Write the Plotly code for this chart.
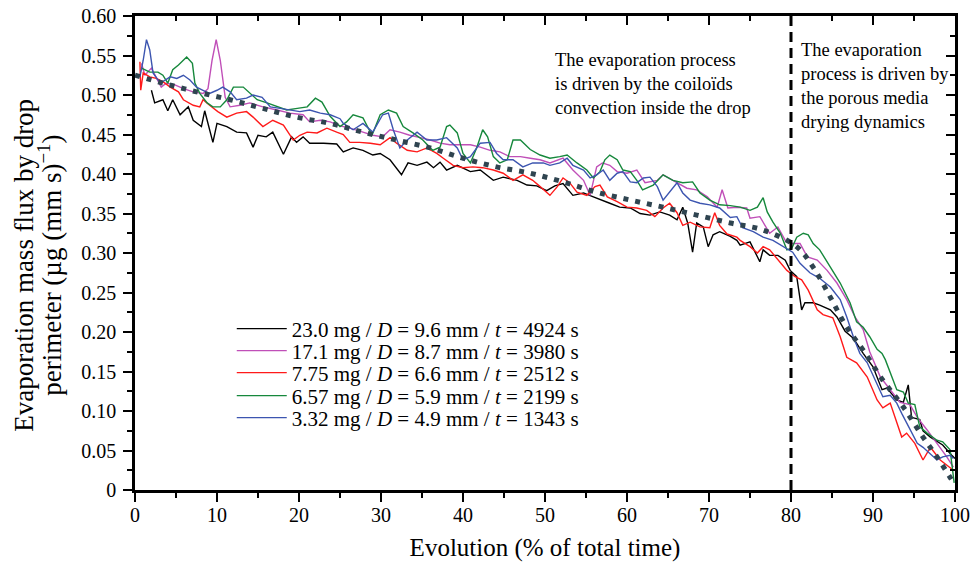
import plotly.graph_objects as go

# 23.0 mg / D = 9.6 mm / t = 4924 s
x_black = [2.0, 2.4, 3.4, 4.0, 4.6, 5.5, 6.5, 7.1, 8.1, 8.5, 9.5, 10.0, 11.2, 12.4, 13.6, 14.4, 15.0, 16.0, 16.8, 18.1,
           19.1, 19.7, 20.5, 21.3, 23.0, 24.6, 25.4, 26.6, 27.8, 29.0, 29.9, 31.1, 32.5, 33.3, 34.4, 35.6, 36.4, 37.2,
           38.0, 39.3, 40.9, 42.1, 43.7, 44.9, 46.6, 47.8, 49.0, 50.2, 51.2, 52.2, 53.4, 54.7, 55.9, 57.0, 57.9, 59.1,
           60.4, 61.6, 62.8, 64.0, 65.2, 66.1, 66.8, 67.4, 68.0, 68.5, 69.3, 69.9, 70.5, 71.3, 72.6, 73.4, 73.8, 75.0,
           75.6, 76.2, 76.6, 77.4, 78.4, 79.3, 79.9, 80.7, 81.3, 81.7, 82.7, 83.5, 84.8, 85.6, 86.6, 87.6, 88.8, 90.0,
           91.1, 91.7, 92.9, 93.7, 94.3, 94.7, 95.7, 96.1, 97.0, 98.5, 99.6, 100.0]
y_black = [0.506, 0.490, 0.494, 0.480, 0.494, 0.475, 0.485, 0.468, 0.460, 0.480, 0.440, 0.464, 0.460, 0.453, 0.452,
           0.434, 0.449, 0.447, 0.453, 0.425, 0.447, 0.440, 0.447, 0.439, 0.439, 0.438, 0.428, 0.433, 0.430, 0.424,
           0.426, 0.418, 0.399, 0.414, 0.411, 0.415, 0.408, 0.415, 0.405, 0.411, 0.403, 0.405, 0.392, 0.396, 0.392,
           0.386, 0.385, 0.379, 0.385, 0.388, 0.373, 0.376, 0.371, 0.367, 0.363, 0.358, 0.357, 0.350, 0.348, 0.352,
           0.348, 0.342, 0.358, 0.338, 0.301, 0.338, 0.333, 0.308, 0.323, 0.327, 0.321, 0.316, 0.310, 0.314, 0.301,
           0.289, 0.304, 0.297, 0.297, 0.291, 0.278, 0.270, 0.228, 0.237, 0.237, 0.234, 0.228, 0.219, 0.201, 0.192,
           0.173, 0.156, 0.127, 0.129, 0.114, 0.111, 0.133, 0.092, 0.089, 0.075, 0.067, 0.057, 0.044, 0.040]

# 17.1 mg / D = 8.7 mm / t = 3980 s
x_magenta = [0.8, 1.2, 2.0, 2.6, 3.2, 3.8, 4.8, 5.9, 7.1, 8.3, 8.9, 9.4, 9.9, 10.4, 11.0, 11.6, 12.8, 14.0, 15.6, 17.3,
             18.9, 20.5, 21.3, 22.6, 23.8, 25.0, 26.2, 27.8, 29.0, 30.2, 31.1, 32.3, 33.5, 34.8, 36.0, 37.2, 38.4, 40.9,
             42.1, 43.3, 44.5, 45.7, 47.0, 48.2, 49.4, 50.6, 52.2, 53.4, 54.7, 55.5, 56.3, 57.0, 57.9, 58.8, 60.0, 61.2,
             62.2, 63.7, 64.4, 65.6, 67.3, 68.5, 69.8, 71.0, 71.6, 72.3, 73.4, 74.6, 75.0, 76.2, 77.4, 78.4, 79.3, 80.1,
             81.1, 82.0, 83.2, 84.4, 85.6, 86.8, 87.8, 88.8, 89.6, 90.9, 92.1, 93.3, 94.5, 95.4, 96.6, 97.8, 99.0, 99.8]
y_magenta = [0.540, 0.525, 0.534, 0.521, 0.510, 0.515, 0.513, 0.508, 0.504, 0.502, 0.508, 0.544, 0.570, 0.544, 0.497,
             0.485, 0.487, 0.490, 0.485, 0.481, 0.477, 0.475, 0.466, 0.468, 0.466, 0.461, 0.458, 0.453, 0.449, 0.447,
             0.456, 0.453, 0.449, 0.446, 0.443, 0.439, 0.437, 0.437, 0.434, 0.430, 0.428, 0.422, 0.422, 0.420, 0.418,
             0.414, 0.420, 0.405, 0.392, 0.373, 0.409, 0.414, 0.411, 0.403, 0.401, 0.405, 0.389, 0.392, 0.399, 0.392,
             0.382, 0.380, 0.371, 0.358, 0.380, 0.357, 0.358, 0.357, 0.344, 0.346, 0.325, 0.333, 0.316, 0.312, 0.312,
             0.295, 0.291, 0.278, 0.262, 0.241, 0.219, 0.203, 0.175, 0.143, 0.127, 0.111, 0.108, 0.092, 0.076, 0.059,
             0.042, 0.029]

# 7.75 mg / D = 6.6 mm / t = 2512 s
x_red = [0.6, 0.7, 1.0, 1.8, 2.6, 3.4, 4.3, 5.3, 5.9, 7.1, 7.9, 8.3, 9.1, 10.1, 11.2, 12.4, 13.6, 14.4, 15.6, 16.8, 18.1,
         19.3, 20.1, 21.0, 22.2, 23.4, 24.6, 25.4, 26.2, 27.4, 28.7, 29.9, 31.1, 31.9, 33.2, 34.4, 35.6, 36.8, 37.6,
         38.8, 40.0, 41.2, 42.4, 43.7, 44.9, 46.1, 47.3, 48.5, 49.3, 50.6, 51.5, 52.2, 53.0, 53.9, 55.1, 56.1, 56.7,
         57.6, 58.8, 60.0, 61.2, 62.4, 63.4, 64.4, 65.2, 66.1, 66.8, 67.7, 68.9, 70.1, 70.7, 71.3, 72.2, 73.4, 73.8,
         75.0, 75.9, 76.6, 77.4, 78.4, 79.5, 80.5, 81.3, 82.1, 83.2, 83.9, 85.1, 86.0, 86.8, 88.0, 89.3, 90.5, 91.2,
         92.1, 92.9, 93.5, 94.1, 95.1, 96.1, 97.0, 98.2, 99.4, 99.8]
y_red = [0.542, 0.506, 0.528, 0.523, 0.521, 0.517, 0.510, 0.504, 0.494, 0.487, 0.485, 0.494, 0.487, 0.479, 0.472, 0.477,
         0.479, 0.472, 0.460, 0.468, 0.462, 0.443, 0.449, 0.453, 0.452, 0.458, 0.453, 0.450, 0.440, 0.440, 0.439, 0.437,
         0.446, 0.439, 0.430, 0.428, 0.433, 0.426, 0.420, 0.411, 0.408, 0.409, 0.408, 0.405, 0.401, 0.392, 0.399, 0.392,
         0.385, 0.373, 0.384, 0.395, 0.389, 0.377, 0.373, 0.384, 0.386, 0.371, 0.365, 0.358, 0.357, 0.354, 0.346, 0.357,
         0.363, 0.351, 0.335, 0.339, 0.333, 0.332, 0.351, 0.335, 0.324, 0.320, 0.316, 0.308, 0.300, 0.308, 0.304, 0.291,
         0.278, 0.270, 0.266, 0.253, 0.228, 0.222, 0.218, 0.194, 0.168, 0.161, 0.143, 0.114, 0.104, 0.110, 0.085, 0.067,
         0.072, 0.059, 0.038, 0.054, 0.038, 0.029, 0.025]

# 6.57 mg / D = 5.9 mm / t = 2199 s
x_green = [0.8, 1.8, 2.8, 3.4, 4.0, 4.6, 5.3, 5.9, 6.3, 7.0, 7.3, 7.9, 8.8, 9.5, 10.4, 11.2, 12.0, 13.2, 14.0, 14.9,
           16.1, 17.3, 18.5, 19.8, 21.0, 22.0, 22.8, 23.8, 25.0, 25.8, 26.6, 27.8, 28.9, 29.9, 30.9, 31.9, 32.7, 33.9,
           35.1, 36.3, 37.2, 38.0, 38.4, 39.3, 40.0, 40.9, 41.7, 42.4, 43.0, 43.7, 44.5, 45.4, 46.1, 47.0, 48.2, 49.4,
           50.6, 51.8, 52.7, 53.9, 55.1, 55.9, 56.7, 57.3, 57.9, 58.8, 59.5, 60.4, 61.2, 61.9, 63.2, 64.4, 65.6, 66.8,
           68.0, 68.9, 70.1, 71.3, 72.6, 73.8, 75.0, 75.9, 76.6, 77.1, 77.8, 78.7, 79.5, 80.1, 80.7, 81.5, 82.1, 82.7,
           83.5, 84.8, 86.0, 87.2, 88.0, 88.8, 89.6, 90.5, 91.1, 91.5, 92.1, 92.9, 93.7, 94.3, 95.1, 95.7, 96.6, 97.8,
           98.5, 99.4, 99.9]
y_green = [0.534, 0.529, 0.529, 0.525, 0.515, 0.532, 0.538, 0.544, 0.548, 0.540, 0.515, 0.502, 0.490, 0.485, 0.485,
           0.494, 0.510, 0.510, 0.502, 0.494, 0.490, 0.485, 0.481, 0.483, 0.485, 0.496, 0.491, 0.473, 0.460, 0.466,
           0.475, 0.471, 0.449, 0.475, 0.481, 0.477, 0.460, 0.452, 0.443, 0.430, 0.434, 0.460, 0.462, 0.452, 0.426,
           0.414, 0.434, 0.456, 0.447, 0.422, 0.414, 0.418, 0.443, 0.443, 0.431, 0.424, 0.420, 0.422, 0.424, 0.414,
           0.405, 0.395, 0.403, 0.418, 0.424, 0.418, 0.405, 0.403, 0.392, 0.380, 0.386, 0.399, 0.392, 0.389, 0.390,
           0.376, 0.367, 0.361, 0.360, 0.358, 0.354, 0.358, 0.370, 0.352, 0.339, 0.325, 0.304, 0.306, 0.320, 0.325,
           0.323, 0.312, 0.304, 0.282, 0.262, 0.237, 0.213, 0.206, 0.194, 0.178, 0.173, 0.165, 0.148, 0.127, 0.124,
           0.110, 0.108, 0.080, 0.072, 0.063, 0.061, 0.051, 0.009]

# 3.32 mg / D = 4.9 mm / t = 1343 s
x_blue = [0.6, 1.0, 1.4, 1.8, 2.2, 2.8, 3.4, 4.3, 5.1, 5.9, 6.7, 7.5, 8.3, 9.1, 10.0, 10.7, 11.6, 12.4, 13.6, 14.4, 15.5,
          16.5, 17.7, 18.9, 20.1, 21.3, 22.6, 23.8, 25.0, 25.4, 26.6, 27.8, 29.0, 30.2, 30.9, 31.5, 32.3, 33.2, 34.4,
          35.6, 36.8, 38.0, 39.3, 40.0, 40.9, 42.1, 43.3, 44.1, 44.9, 46.1, 47.3, 48.5, 49.8, 50.6, 51.8, 52.7, 53.4,
          54.7, 55.5, 56.3, 57.1, 57.9, 58.8, 59.5, 60.4, 61.2, 62.0, 62.8, 63.7, 64.4, 65.2, 66.1, 66.8, 67.7, 68.9,
          70.1, 71.3, 72.6, 73.4, 74.1, 75.4, 76.6, 77.8, 79.0, 80.2, 81.1, 82.3, 83.5, 84.8, 86.0, 86.8, 87.6, 88.4,
          89.3, 90.5, 91.2, 92.1, 92.9, 93.5, 94.5, 95.4, 96.1, 97.0, 97.8, 98.5, 99.4, 99.8]
y_blue = [0.523, 0.544, 0.570, 0.557, 0.528, 0.519, 0.517, 0.523, 0.521, 0.525, 0.519, 0.510, 0.506, 0.502, 0.506, 0.510,
          0.504, 0.494, 0.496, 0.500, 0.497, 0.485, 0.483, 0.481, 0.479, 0.481, 0.477, 0.475, 0.470, 0.464, 0.456, 0.464,
          0.453, 0.475, 0.477, 0.456, 0.433, 0.443, 0.453, 0.443, 0.443, 0.446, 0.433, 0.418, 0.422, 0.439, 0.440, 0.426,
          0.418, 0.418, 0.409, 0.414, 0.414, 0.411, 0.414, 0.420, 0.411, 0.405, 0.395, 0.399, 0.405, 0.392, 0.401, 0.403,
          0.390, 0.389, 0.395, 0.396, 0.384, 0.367, 0.377, 0.389, 0.376, 0.367, 0.363, 0.361, 0.357, 0.345, 0.346, 0.332,
          0.327, 0.320, 0.316, 0.308, 0.301, 0.287, 0.275, 0.268, 0.257, 0.241, 0.219, 0.194, 0.173, 0.161, 0.135, 0.118,
          0.120, 0.110, 0.097, 0.076, 0.059, 0.054, 0.046, 0.038, 0.042, 0.044, 0.040]

# fitted trend (dotted)
x_fit = [0, 3.4, 7.5, 11.6, 15.6, 19.7, 23.8, 27.8, 31.9, 36.0, 40.0, 44.1, 48.2, 52.2, 56.3, 60.4, 64.4, 68.5, 72.6,
         76.6, 80.7, 82.7, 84.8, 86.8, 88.8, 91.2, 93.7, 96.1, 97.8, 99.4, 100]
y_fit = [0.525, 0.515, 0.504, 0.494, 0.483, 0.472, 0.464, 0.453, 0.443, 0.433, 0.420, 0.409, 0.401, 0.390, 0.377, 0.367,
         0.358, 0.348, 0.338, 0.329, 0.308, 0.282, 0.244, 0.206, 0.177, 0.139, 0.105, 0.067, 0.042, 0.016, 0.006]

names = ["23.0 mg / <i>D</i> = 9.6 mm / <i>t</i> = 4924 s",
         "17.1 mg / <i>D</i> = 8.7 mm / <i>t</i> = 3980 s",
         "7.75 mg / <i>D</i> = 6.6 mm / <i>t</i> = 2512 s",
         "6.57 mg / <i>D</i> = 5.9 mm / <i>t</i> = 2199 s",
         "3.32 mg / <i>D</i> = 4.9 mm / <i>t</i> = 1343 s"]
colors = ["#000000", "#c04fb8", "#ff1a1a", "#16883c", "#3c55b0"]

y_ticks = [0, 0.05, 0.10, 0.15, 0.20, 0.25, 0.30, 0.35, 0.40, 0.45, 0.50, 0.55, 0.60]
y_ticktext = ["0", "0.05", "0.10", "0.15", "0.20", "0.25", "0.30", "0.35", "0.40", "0.45", "0.50", "0.55", "0.60"]

FONT = "Liberation Serif, Times New Roman, serif"

fig = go.Figure()

# one small legend per entry so the rows can sit as tight as in the original
legend_ids = ["legend", "legend2", "legend3", "legend4", "legend5"]
legend_rows = [0.3397, 0.2932, 0.2468, 0.1983, 0.1519]

series = [(x_black, y_black), (x_magenta, y_magenta), (x_red, y_red), (x_green, y_green), (x_blue, y_blue)]
for (xs, ys), n, c, lg in zip(series, names, colors, legend_ids):
    fig.add_trace(go.Scatter(x=xs, y=ys, mode="lines", name=n, legend=lg, line=dict(color=c, width=1.4)))

fig.add_trace(go.Scatter(x=x_fit, y=y_fit, mode="lines", showlegend=False, line_shape="spline",
                         line=dict(color="#2f4450", width=5, dash="5px,7px")))

# dummy trace so the top/right mirror axes get drawn
fig.add_trace(go.Scatter(x=[None], y=[None], xaxis="x2", yaxis="y2", showlegend=False, hoverinfo="skip"))

fig.add_shape(type="line", x0=80, x1=80, y0=0, y1=0.6, xref="x", yref="y",
              line=dict(color="black", width=3, dash="10px,6px"))

fig.add_annotation(x=51, y=0.514, xref="x", yref="y", xanchor="left", yanchor="middle", align="left", showarrow=False,
                   text="The evaporation process<br>is driven by the coiloïds<br>convection inside the drop",
                   font=dict(family=FONT, size=18.5, color="black"))
fig.add_annotation(x=81.0, y=0.511, xref="x", yref="y", xanchor="left", yanchor="middle", align="left",
                   showarrow=False,
                   text="The evaporation<br>process is driven by<br>the porous media<br>drying dynamics",
                   font=dict(family=FONT, size=18.5, color="black"))

# y title as two rotated lines, placed like the original
fig.add_annotation(x=-0.1354, y=0.475, xref="paper", yref="paper", textangle=-90, showarrow=False,
                   xanchor="center", yanchor="middle", text="Evaporation mass flux by drop",
                   font=dict(family=FONT, size=27, color="black"))
fig.add_annotation(x=-0.1037, y=0.475, xref="paper", yref="paper", textangle=-90, showarrow=False,
                   xanchor="center", yanchor="middle", text="perimeter (µg (mm s)<sup>−1</sup>)",
                   font=dict(family=FONT, size=27, color="black"))

axis_common = dict(showline=True, linecolor="black", linewidth=2.5, showgrid=False, zeroline=False,
                   tickcolor="black", tickwidth=1.5, ticklen=9, automargin=False, ticklabeloverflow="allow")

layout_legends = {}
for lg, yy in zip(legend_ids, legend_rows):
    layout_legends[lg] = dict(x=0.118, y=yy, xanchor="left", yanchor="middle", bgcolor="rgba(0,0,0,0)",
                              font=dict(family=FONT, size=21), itemwidth=50)

fig.update_layout(
    width=974, height=568,
    margin=dict(l=135, r=19, t=16, b=78),
    paper_bgcolor="white", plot_bgcolor="white",
    font=dict(family=FONT, size=20, color="black"),
    xaxis=dict(range=[0, 100], tickvals=list(range(0, 101, 10)), ticks="outside", ticklabelstandoff=-4,
               minor=dict(dtick=5, ticks="outside", ticklen=5, tickcolor="black", tickwidth=1.5),
               title=dict(text="Evolution (% of total time)", font=dict(size=25), standoff=14),
               tickfont=dict(size=20), **axis_common),
    yaxis=dict(range=[0, 0.6], tickvals=y_ticks, ticktext=y_ticktext, ticks="outside", ticklabelstandoff=3,
               minor=dict(dtick=0.025, ticks="outside", ticklen=5, tickcolor="black", tickwidth=1.5),
               tickfont=dict(size=20), **axis_common),
    xaxis2=dict(range=[0, 100], overlaying="x", side="top", anchor="y", tickvals=list(range(0, 101, 10)),
                ticks="inside", showticklabels=False,
                minor=dict(dtick=5, ticks="inside", ticklen=5, tickcolor="black", tickwidth=1.5),
                **axis_common),
    yaxis2=dict(range=[0, 0.6], overlaying="y", side="right", anchor="x", tickvals=y_ticks,
                ticks="inside", showticklabels=False,
                minor=dict(dtick=0.025, ticks="inside", ticklen=5, tickcolor="black", tickwidth=1.5),
                **axis_common),
    showlegend=True,
    **layout_legends,
)

# drop the page's default body margin so the figure fills the window exactly
fig.write_html("out.html", config={"displayModeBar": False},
               post_script="document.body.style.margin = '0'; document.body.style.overflow = 'hidden';")
